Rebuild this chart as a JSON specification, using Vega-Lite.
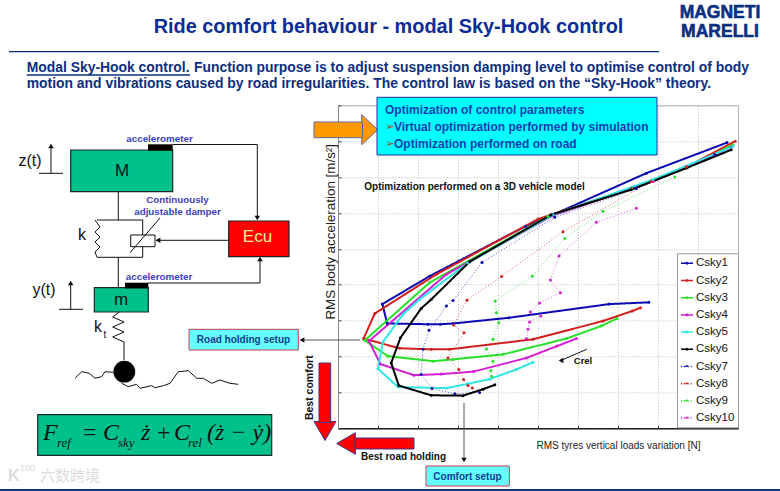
{"$schema":"https://vega.github.io/schema/vega-lite/v6.json","width":400,"height":323,"padding":{"left":338,"top":105.3,"right":42,"bottom":62.7},"autosize":{"type":"none"},"background":"white","config":{"view":{"stroke":"#b0b0b0"}},
"resolve":{"scale":{"x":"independent","y":"independent"}},
"layer":[
{"data":{"values":[
{"s":"Csky1","x":9.725,"y":7.96},{"s":"Csky1","x":7.71,"y":7.11},{"s":"Csky1","x":5.375,"y":5.95},{"s":"Csky1","x":4.69,"y":5.63},{"s":"Csky1","x":2.29,"y":4.24},{"s":"Csky1","x":1.11,"y":3.46},{"s":"Csky1","x":1.23,"y":2.92},{"s":"Csky1","x":2.25,"y":2.9},{"s":"Csky1","x":2.56,"y":2.9},{"s":"Csky1","x":2.875,"y":2.92},{"s":"Csky1","x":4.275,"y":3.08},{"s":"Csky1","x":6.775,"y":3.46},{"s":"Csky1","x":7.77,"y":3.51},
{"s":"Csky2","x":9.93,"y":8.0},{"s":"Csky2","x":8.71,"y":7.28},{"s":"Csky2","x":7.33,"y":6.69},{"s":"Csky2","x":5.0,"y":5.83},{"s":"Csky2","x":2.46,"y":4.29},{"s":"Csky2","x":0.92,"y":3.2},{"s":"Csky2","x":0.64,"y":2.5},{"s":"Csky2","x":1.54,"y":2.23},{"s":"Csky2","x":2.33,"y":2.2},{"s":"Csky2","x":2.79,"y":2.2},{"s":"Csky2","x":4.875,"y":2.48},{"s":"Csky2","x":6.625,"y":2.99},{"s":"Csky2","x":7.36,"y":3.27},{"s":"Csky2","x":7.56,"y":3.36},
{"s":"Csky3","x":9.875,"y":7.9},{"s":"Csky3","x":8.71,"y":7.25},{"s":"Csky3","x":7.33,"y":6.67},{"s":"Csky3","x":5.25,"y":5.9},{"s":"Csky3","x":2.29,"y":4.06},{"s":"Csky3","x":0.67,"y":2.45},{"s":"Csky3","x":1.25,"y":2.01},{"s":"Csky3","x":2.375,"y":1.87},{"s":"Csky3","x":2.875,"y":1.92},{"s":"Csky3","x":4.125,"y":2.06},{"s":"Csky3","x":5.71,"y":2.5},{"s":"Csky3","x":6.58,"y":2.85},{"s":"Csky3","x":6.975,"y":3.06},
{"s":"Csky4","x":9.86,"y":7.85},{"s":"Csky4","x":9.42,"y":7.62},{"s":"Csky4","x":7.875,"y":6.88},{"s":"Csky4","x":5.375,"y":5.93},{"s":"Csky4","x":2.71,"y":4.29},{"s":"Csky4","x":0.775,"y":2.43},{"s":"Csky4","x":1.06,"y":1.79},{"s":"Csky4","x":1.9,"y":1.48},{"s":"Csky4","x":2.58,"y":1.51},{"s":"Csky4","x":3.39,"y":1.58},{"s":"Csky4","x":4.71,"y":1.96},{"s":"Csky4","x":5.475,"y":2.29},{"s":"Csky4","x":5.96,"y":2.5},
{"s":"Csky5","x":9.875,"y":7.85},{"s":"Csky5","x":7.875,"y":6.93},{"s":"Csky5","x":5.375,"y":5.95},{"s":"Csky5","x":3.25,"y":4.61},{"s":"Csky5","x":2.04,"y":3.59},{"s":"Csky5","x":1.625,"y":3.18},{"s":"Csky5","x":1.12,"y":2.4},{"s":"Csky5","x":1.0,"y":1.66},{"s":"Csky5","x":1.5,"y":1.15},{"s":"Csky5","x":2.71,"y":1.12},{"s":"Csky5","x":3.25,"y":1.24},{"s":"Csky5","x":3.79,"y":1.37},{"s":"Csky5","x":4.46,"y":1.64},{"s":"Csky5","x":4.875,"y":1.84},
{"s":"Csky6","x":9.83,"y":7.76},{"s":"Csky6","x":8.71,"y":7.25},{"s":"Csky6","x":7.33,"y":6.65},{"s":"Csky6","x":5.33,"y":5.95},{"s":"Csky6","x":3.29,"y":4.64},{"s":"Csky6","x":2.33,"y":3.59},{"s":"Csky6","x":2.08,"y":3.34},{"s":"Csky6","x":1.56,"y":2.52},{"s":"Csky6","x":1.33,"y":1.82},{"s":"Csky6","x":1.52,"y":1.19},{"s":"Csky6","x":2.33,"y":0.92},{"s":"Csky6","x":3.125,"y":0.91},{"s":"Csky6","x":3.625,"y":1.09},{"s":"Csky6","x":3.92,"y":1.21},
{"s":"Csky7","x":9.42,"y":7.62},{"s":"Csky7","x":7.46,"y":6.68},{"s":"Csky7","x":5.42,"y":5.88},{"s":"Csky7","x":3.6,"y":4.62},{"s":"Csky7","x":2.875,"y":3.56},{"s":"Csky7","x":2.71,"y":3.41},{"s":"Csky7","x":2.275,"y":2.73},{"s":"Csky7","x":2.125,"y":2.2},{"s":"Csky7","x":2.08,"y":1.5},{"s":"Csky7","x":2.35,"y":1.11},{"s":"Csky7","x":2.92,"y":0.96},{"s":"Csky7","x":3.54,"y":1.0},
{"s":"Csky8","x":8.71,"y":7.28},{"s":"Csky8","x":7.83,"y":6.88},{"s":"Csky8","x":5.625,"y":5.48},{"s":"Csky8","x":4.09,"y":4.23},{"s":"Csky8","x":3.225,"y":3.57},{"s":"Csky8","x":2.89,"y":2.88},{"s":"Csky8","x":3.15,"y":2.66},{"s":"Csky8","x":2.75,"y":1.96},{"s":"Csky8","x":3.02,"y":1.64},{"s":"Csky8","x":3.14,"y":1.36},{"s":"Csky8","x":3.25,"y":1.19},{"s":"Csky8","x":3.36,"y":1.12},
{"s":"Csky9","x":8.42,"y":7.0},{"s":"Csky9","x":6.625,"y":6.05},{"s":"Csky9","x":5.67,"y":5.29},{"s":"Csky9","x":4.86,"y":4.24},{"s":"Csky9","x":3.93,"y":3.55},{"s":"Csky9","x":3.96,"y":3.22},{"s":"Csky9","x":4.02,"y":2.94},{"s":"Csky9","x":3.875,"y":2.48},{"s":"Csky9","x":3.71,"y":2.21},{"s":"Csky9","x":3.875,"y":1.87},{"s":"Csky9","x":3.82,"y":1.61},{"s":"Csky9","x":3.84,"y":1.45},
{"s":"Csky10","x":7.46,"y":6.13},{"s":"Csky10","x":6.46,"y":5.74},{"s":"Csky10","x":5.525,"y":4.8},{"s":"Csky10","x":5.31,"y":4.13},{"s":"Csky10","x":5.56,"y":3.78},{"s":"Csky10","x":5.04,"y":3.49},{"s":"Csky10","x":4.81,"y":3.24},{"s":"Csky10","x":5.07,"y":3.13},{"s":"Csky10","x":4.79,"y":2.96},{"s":"Csky10","x":4.75,"y":2.76},{"s":"Csky10","x":4.71,"y":2.5}
]},
"encoding":{
"x":{"field":"x","type":"quantitative","scale":{"domain":[0,10],"nice":false,"zero":false},"axis":{"values":[0,1,2,3,4,5,6,7,8,9,10],"labels":false,"tickSize":-3,"tickColor":"#444","grid":true,"gridColor":"#b8b8b8","gridDash":[1,2],"domainColor":"#222","domainWidth":1.5,"title":"RMS tyres vertical loads variation [N]","titleFont":"Liberation Sans","titleFontWeight":"normal","titleFontSize":10,"titleColor":"#222","titleX":280,"titleY":12}},
"y":{"field":"y","type":"quantitative","scale":{"domain":[0,9],"nice":false,"zero":false},"axis":{"values":[0,1,2,3,4,5,6,7,8,9],"labels":false,"tickSize":-3,"tickColor":"#444","grid":true,"gridColor":"#b8b8b8","gridDash":[1,2],"domainColor":"#888","domainWidth":1,"title":"RMS body acceleration [m/s²]","titleFont":"Liberation Sans","titleFontWeight":"normal","titleFontSize":13.4,"titleColor":"#222","titleX":-1,"titleY":126}}
},
"layer":[
{"transform":[{"filter":{"field":"s","oneOf":["Csky7","Csky8","Csky9","Csky10"]}}],"mark":{"type":"line","clip":false,"strokeWidth":0.7},"encoding":{"order":{"value":null},
"color":{"field":"s","type":"nominal","scale":{"domain":["Csky1","Csky2","Csky3","Csky4","Csky5","Csky6","Csky7","Csky8","Csky9","Csky10"],"range":["#0a0ab4","#d21e1e","#28e028","#d31fd3","#2fe6e6","#000000","#0a0ab4","#d21e1e","#28e028","#d31fd3"]},"legend":{"orient":"none","legendX":339,"legendY":148,"title":null,"labelFont":"Liberation Sans","labelFontSize":11.5,"labelColor":"#111","labelOffset":2,"symbolType":"M-1 0L-0.12 0L0 -0.12L0.12 0L0 0.12L-0.12 0L0 -0.12M0.12 0L1 0","symbolSize":144,"symbolStrokeWidth":1.5,"rowPadding":4.2,"padding":3,"strokeColor":"#999","fillColor":"white","offset":0}},
"strokeDash":{"field":"s","type":"nominal","scale":{"domain":["Csky1","Csky2","Csky3","Csky4","Csky5","Csky6","Csky7","Csky8","Csky9","Csky10"],"range":[[1,0],[1,0],[1,0],[1,0],[1,0],[1,0],[1,2],[1,2],[1,2],[1,2]]},"legend":{"orient":"none","legendX":339,"legendY":148,"title":null,"labelFont":"Liberation Sans","labelFontSize":11.5,"labelColor":"#111","labelOffset":2,"symbolType":"M-1 0L-0.12 0L0 -0.12L0.12 0L0 0.12L-0.12 0L0 -0.12M0.12 0L1 0","symbolSize":144,"symbolStrokeWidth":1.5,"rowPadding":4.2,"padding":3,"strokeColor":"#999","fillColor":"white","offset":0}}}},
{"transform":[{"filter":{"field":"s","oneOf":["Csky1","Csky2","Csky3","Csky4","Csky5","Csky6"]}}],"mark":{"type":"line","clip":false,"strokeWidth":2},"encoding":{"order":{"value":null},
"color":{"field":"s","type":"nominal"},"strokeDash":{"field":"s","type":"nominal"}}},
{"mark":{"type":"point","filled":true,"opacity":1,"size":9,"clip":false},"encoding":{"fill":{"field":"s","type":"nominal","legend":null,"scale":{"domain":["Csky1","Csky2","Csky3","Csky4","Csky5","Csky6","Csky7","Csky8","Csky9","Csky10"],"range":["#0a0ab4","#d21e1e","#28e028","#d31fd3","#2fe6e6","#000000","#0a0ab4","#d21e1e","#28e028","#d31fd3"]}}}}
]},
{"encoding":{
"x":{"field":"x","type":"quantitative","axis":null,"scale":{"domain":[0,780],"range":[-338,442],"nice":false,"zero":false}},
"y":{"field":"y","type":"quantitative","axis":null,"scale":{"domain":[0,491],"range":[-105.3,385.7],"nice":false,"zero":false}}},
"layer":[
{"data":{"values":[{"x":70.7,"x2":172.7,"y":150,"y2":191.7},{"x":94.3,"x2":148.3,"y":287.7,"y2":312},{"x":37.7,"x2":271.7,"y":414.7,"y2":455.3}]},"mark":{"type":"rect","fill":"#00c08c","stroke":"#1a2a2a","strokeWidth":1.2},"encoding":{"x2":{"field":"x2"},"y2":{"field":"y2"}}},
{"data":{"values":[{"x":148,"x2":172.7,"y":144.3,"y2":150.7},{"x":125,"x2":148.3,"y":282.7,"y2":288.4}]},"mark":{"type":"rect","fill":"black"},"encoding":{"x2":{"field":"x2"},"y2":{"field":"y2"}}},
{"data":{"values":[{"x":228.7,"x2":289,"y":221,"y2":256.7}]},"mark":{"type":"rect","fill":"#ff0000","stroke":"#222","strokeWidth":1.2},"encoding":{"x2":{"field":"x2"},"y2":{"field":"y2"}}},
{"data":{"values":[{"g":"a","x":172.7,"y":144.5},{"g":"a","x":257.3,"y":144.5},{"g":"a","x":257.3,"y":219},{"g":"b","x":228.7,"y":240.3},{"g":"b","x":156,"y":240.3},{"g":"c","x":148,"y":283},{"g":"c","x":260,"y":283},{"g":"c","x":260,"y":258},{"g":"d","x":118.3,"y":191.7},{"g":"d","x":118.3,"y":220},{"g":"e","x":118.3,"y":257.3},{"g":"e","x":118.3,"y":287.7},{"g":"f","x":97,"y":220},{"g":"f","x":142.7,"y":220},{"g":"f","x":142.7,"y":235},{"g":"g","x":142.7,"y":246.7},{"g":"g","x":142.7,"y":257.3},{"g":"g","x":97,"y":257.3},{"g":"h","x":130.7,"y":235},{"g":"h","x":155,"y":235},{"g":"h","x":155,"y":246.7},{"g":"h","x":130.7,"y":246.7},{"g":"h","x":130.7,"y":235},{"g":"i","x":130,"y":252.7},{"g":"i","x":160,"y":218},{"g":"j","x":95,"y":220},{"g":"j","x":100,"y":227},{"g":"j","x":95,"y":232},{"g":"j","x":100,"y":237},{"g":"j","x":95,"y":242},{"g":"j","x":100,"y":247},{"g":"j","x":95,"y":252},{"g":"j","x":97,"y":257.3},{"g":"k","x":119.3,"y":312},{"g":"k","x":112.7,"y":317},{"g":"k","x":124,"y":322},{"g":"k","x":112.7,"y":327},{"g":"k","x":124,"y":332},{"g":"k","x":112.7,"y":337},{"g":"k","x":124,"y":342},{"g":"k","x":124,"y":360},{"g":"l","x":39,"y":173.3},{"g":"l","x":63,"y":173.3},{"g":"m","x":51,"y":173.3},{"g":"m","x":51,"y":147},{"g":"n","x":59,"y":309.3},{"g":"n","x":83,"y":309.3},{"g":"o","x":70.7,"y":309.3},{"g":"o","x":70.7,"y":284},{"g":"p","x":75,"y":378.3},{"g":"p","x":81.7,"y":371.7},{"g":"p","x":89.3,"y":373.3},{"g":"p","x":95,"y":378.3},{"g":"p","x":101.7,"y":376.7},{"g":"p","x":105,"y":371.7},{"g":"p","x":113.3,"y":372.3},{"g":"q","x":121.7,"y":383.3},{"g":"q","x":128.3,"y":386.7},{"g":"q","x":136.7,"y":384.3},{"g":"q","x":140,"y":388.3},{"g":"q","x":151.7,"y":385.7},{"g":"q","x":155,"y":387.7},{"g":"q","x":163.3,"y":385.7},{"g":"q","x":170,"y":383.3},{"g":"q","x":178.3,"y":371.7},{"g":"q","x":188.3,"y":370.7},{"g":"q","x":196.7,"y":378.3},{"g":"q","x":203.3,"y":378.3},{"g":"q","x":211.7,"y":383.3},{"g":"q","x":220,"y":380},{"g":"q","x":230,"y":383.3},{"g":"q","x":238.3,"y":384.3},{"g":"r","x":586.7,"y":349.3},{"g":"r","x":562,"y":360}]},"mark":{"type":"line","color":"#111","strokeWidth":1},"encoding":{"detail":{"field":"g"},"order":{"value":null}}},
{"data":{"values":[{"g":"a","x":360,"y":340},{"g":"a","x":303,"y":340},{"g":"b","x":464,"y":403},{"g":"b","x":464,"y":459}]},"mark":{"type":"line","color":"#555","strokeWidth":1},"encoding":{"detail":{"field":"g"},"order":{"value":null}}},
{"data":{"values":[{"x":9,"x2":659,"y":51.7}]},"mark":{"type":"rule","color":"#0b2f80","strokeWidth":1.3},"encoding":{"x2":{"field":"x2"}}},
{"data":{"values":[{"x":0,"x2":780,"y":490}]},"mark":{"type":"rule","color":"#0b3a80","strokeWidth":2},"encoding":{"x2":{"field":"x2"}}},
{"data":{"values":[{"x":26.7,"x2":190,"y":75}]},"mark":{"type":"rule","color":"#0b2f80","strokeWidth":1.3},"encoding":{"x2":{"field":"x2"}}},
{"data":{"values":[{"x":124.3,"y":371.7}]},"mark":{"type":"point","filled":true,"fill":"black","opacity":1,"size":475,"shape":"circle"}},
{"data":{"values":[{"x":257.3,"y":218},{"x":464,"y":460}]},"mark":{"type":"point","filled":true,"fill":"#111","opacity":1,"size":30,"shape":"triangle-down"}},
{"data":{"values":[{"x":51,"y":146},{"x":70.7,"y":283},{"x":260,"y":259}]},"mark":{"type":"point","filled":true,"fill":"#111","opacity":1,"size":30,"shape":"triangle-up"}},
{"data":{"values":[{"x":158,"y":240.3},{"x":302,"y":340},{"x":561,"y":360.6}]},"mark":{"type":"point","filled":true,"fill":"#111","opacity":1,"size":30,"shape":"triangle-left"}},
{"data":{"values":[{"x":325,"y":431}]},"mark":{"type":"point","filled":true,"fill":"#ff0000","stroke":"#443388","strokeWidth":1,"opacity":1,"size":484,"shape":"triangle-down"}},
{"data":{"values":[{"x":346,"y":443.5}]},"mark":{"type":"point","filled":true,"fill":"#ff0000","stroke":"#443388","strokeWidth":1,"opacity":1,"size":466,"shape":"triangle-left"}},
{"data":{"values":[{"x":319,"x2":330.7,"y":363,"y2":422.5},{"x":355,"x2":414,"y":438,"y2":449}]},"mark":{"type":"rect","fill":"#ff0000","stroke":"#443388","strokeWidth":1},"encoding":{"x2":{"field":"x2"},"y2":{"field":"y2"}}},
{"data":{"values":[{"x":369.7,"y":129.7}]},"mark":{"type":"point","filled":true,"fill":"#ff9900","stroke":"#666699","strokeWidth":1,"opacity":1,"size":900,"shape":"M-0.533 -1L0.533 0L-0.533 1Z"}},
{"data":{"values":[{"x":314,"x2":362.5,"y":122,"y2":137.7}]},"mark":{"type":"rect","fill":"#ff9900","stroke":"#666699","strokeWidth":1},"encoding":{"x2":{"field":"x2"},"y2":{"field":"y2"}}},
{"data":{"values":[{"x":377,"x2":657,"y":97.3,"y2":155}]},"mark":{"type":"rect","fill":"#00ffff","stroke":"#2030a0","strokeWidth":1},"encoding":{"x2":{"field":"x2"},"y2":{"field":"y2"}}},
{"data":{"values":[{"x":189,"x2":298.3,"y":329.3,"y2":350},{"x":426,"x2":509.3,"y":466,"y2":486}]},"mark":{"type":"rect","fill":"#66ffff","stroke":"#c04050","strokeWidth":1},"encoding":{"x2":{"field":"x2"},"y2":{"field":"y2"}}},
{"data":{"values":[{"x":388.5,"y":27,"t":"Ride comfort behaviour - modal Sky-Hook control"}]},"mark":{"type":"text","font":"Liberation Sans","fontWeight":"bold","fontSize":19.9,"color":"#0a2c96","align":"center","baseline":"middle"},"encoding":{"text":{"field":"t"}}},
{"data":{"values":[{"x":26.7,"y":67.5,"t":"Modal Sky-Hook control."},{"x":194,"y":67.5,"t":"Function purpose is to adjust suspension damping level to optimise control of body"},{"x":26.7,"y":84,"t":"motion and vibrations caused by road irregularities. The control law is based on the “Sky-Hook” theory."}]},"mark":{"type":"text","font":"Liberation Sans","fontWeight":"bold","fontSize":13.9,"color":"#0b2f80","align":"left","baseline":"middle"},"encoding":{"text":{"field":"t"}}},
{"data":{"values":[{"x":720,"y":13,"t":"MAGNETI"},{"x":720,"y":32,"t":"MARELLI"}]},"mark":{"type":"text","font":"Liberation Sans","fontWeight":"bold","fontSize":17.5,"color":"#0b2f7f","align":"center","baseline":"middle","stroke":"#0b2f7f","strokeWidth":0.6},"encoding":{"text":{"field":"t"}}},
{"data":{"values":[{"x":159.5,"y":138.8,"t":"accelerometer"},{"x":159,"y":276.7,"t":"accelerometer"},{"x":177.5,"y":199.5,"t":"Continuously"},{"x":177.5,"y":211.5,"t":"adjustable damper"}]},"mark":{"type":"text","font":"Liberation Sans","fontWeight":"bold","fontSize":9.8,"color":"#4040c0","align":"center","baseline":"middle"},"encoding":{"text":{"field":"t"}}},
{"data":{"values":[{"x":30,"y":160.7,"t":"z(t)"},{"x":44,"y":290,"t":"y(t)"},{"x":82,"y":235,"t":"k"},{"x":98,"y":327,"t":"k"}]},"mark":{"type":"text","font":"Liberation Sans","fontSize":16,"color":"#111","align":"center","baseline":"middle"},"encoding":{"text":{"field":"t"}}},
{"data":{"values":[{"x":105,"y":335,"t":"t"}]},"mark":{"type":"text","font":"Liberation Sans","fontSize":10,"color":"#111","align":"center","baseline":"middle"},"encoding":{"text":{"field":"t"}}},
{"data":{"values":[{"x":122,"y":171,"t":"M"},{"x":121,"y":299.5,"t":"m"}]},"mark":{"type":"text","font":"Liberation Sans","fontSize":17,"color":"#111","align":"center","baseline":"middle"},"encoding":{"text":{"field":"t"}}},
{"data":{"values":[{"x":257.5,"y":237,"t":"Ecu"}]},"mark":{"type":"text","font":"Liberation Sans","fontSize":17,"color":"#ffee99","align":"center","baseline":"middle"},"encoding":{"text":{"field":"t"}}},
{"data":{"values":[{"x":243.5,"y":340,"t":"Road holding setup"},{"x":467.5,"y":476.5,"t":"Comfort setup"}]},"mark":{"type":"text","font":"Liberation Sans","fontWeight":"bold","fontSize":10,"color":"#0b3d91","align":"center","baseline":"middle"},"encoding":{"text":{"field":"t"}}},
{"data":{"values":[{"x":385,"y":110,"t":"Optimization of control parameters"},{"x":394,"y":127,"t":"Virtual optimization performed by simulation"},{"x":394,"y":144,"t":"Optimization performed on road"}]},"mark":{"type":"text","font":"Liberation Sans","fontWeight":"bold","fontSize":12,"color":"#1040b0","align":"left","baseline":"middle"},"encoding":{"text":{"field":"t"}}},
{"data":{"values":[{"x":385.5,"y":127,"t":"➢"},{"x":385.5,"y":144,"t":"➢"}]},"mark":{"type":"text","font":"DejaVu Sans","fontSize":11,"color":"#a04a20","align":"left","baseline":"middle"},"encoding":{"text":{"field":"t"}}},
{"data":{"values":[{"x":364.3,"y":186.7,"t":"Optimization performed on a 3D vehicle model"},{"x":361,"y":456.7,"t":"Best road holding"}]},"mark":{"type":"text","font":"Liberation Sans","fontWeight":"bold","fontSize":10,"color":"#111","align":"left","baseline":"middle"},"encoding":{"text":{"field":"t"}}},
{"data":{"values":[{"x":583,"y":360.7,"t":"Crel"}]},"mark":{"type":"text","font":"Liberation Sans","fontWeight":"bold","fontSize":9.5,"color":"#111","align":"center","baseline":"middle"},"encoding":{"text":{"field":"t"}}},
{"data":{"values":[{"x":310,"y":387.7,"t":"Best comfort"}]},"mark":{"type":"text","font":"Liberation Sans","fontWeight":"bold","fontSize":10.5,"color":"#111","align":"center","baseline":"middle","angle":270},"encoding":{"text":{"field":"t"}}},
{"data":{"values":[{"x":43,"y":440,"t":"F"},{"x":103,"y":440,"t":"C"},{"x":141,"y":440,"t":"ż"},{"x":174,"y":440,"t":"C"},{"x":207,"y":440,"t":"(ż − ẏ)"}]},"mark":{"type":"text","font":"Liberation Serif","fontStyle":"italic","fontSize":24,"color":"#111","align":"left","baseline":"alphabetic"},"encoding":{"text":{"field":"t"}}},
{"data":{"values":[{"x":83,"y":440,"t":"="},{"x":157,"y":440,"t":"+"}]},"mark":{"type":"text","font":"Liberation Serif","fontSize":24,"color":"#111","align":"left","baseline":"alphabetic"},"encoding":{"text":{"field":"t"}}},
{"data":{"values":[{"x":57,"y":447,"t":"ref"},{"x":118,"y":447,"t":"sky"},{"x":188,"y":447,"t":"rel"}]},"mark":{"type":"text","font":"Liberation Serif","fontStyle":"italic","fontSize":13,"color":"#111","align":"left","baseline":"alphabetic"},"encoding":{"text":{"field":"t"}}},
{"data":{"values":[{"x":40,"y":476,"t":"六数跨境"}]},"mark":{"type":"text","font":"Noto Sans CJK SC","fontSize":15,"color":"#dcdcdc","align":"left","baseline":"middle"},"encoding":{"text":{"field":"t"}}},
{"data":{"values":[{"x":8,"y":476,"t":"K"}]},"mark":{"type":"text","font":"Liberation Sans","fontWeight":"bold","fontSize":16,"color":"#dcdcdc","align":"left","baseline":"middle"},"encoding":{"text":{"field":"t"}}},
{"data":{"values":[{"x":20,"y":468,"t":"100"}]},"mark":{"type":"text","font":"Liberation Sans","fontSize":9,"color":"#dcdcdc","align":"left","baseline":"middle"},"encoding":{"text":{"field":"t"}}}
]}
]}
